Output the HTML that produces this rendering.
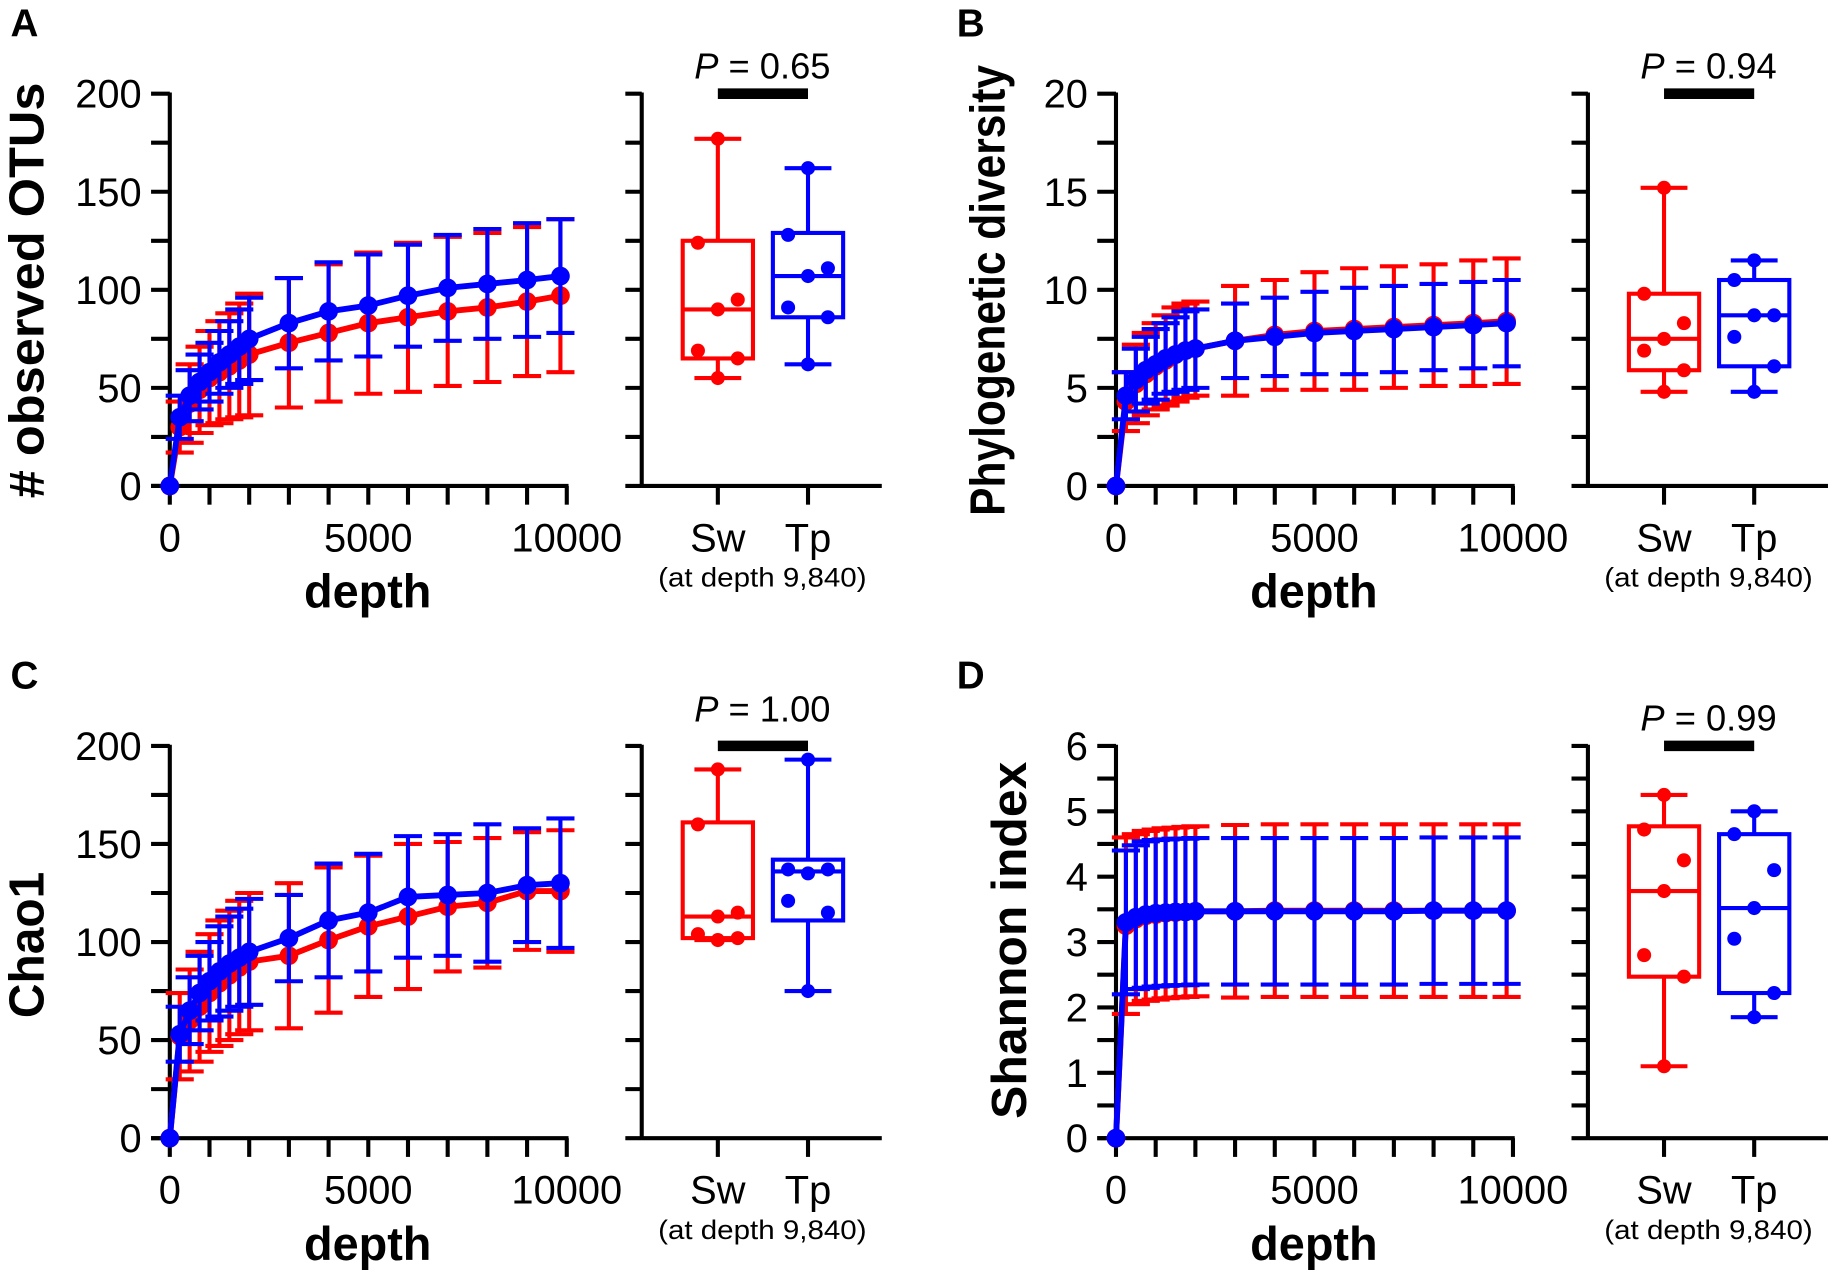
<!DOCTYPE html>
<html><head><meta charset="utf-8"><style>
html,body{margin:0;padding:0;background:#fff}
svg{display:block}
text{font-family:"Liberation Sans",sans-serif;fill:#000}
</style></head><body>
<svg id="fig" width="1835" height="1274" viewBox="0 0 1567 1088" preserveAspectRatio="none" xmlns="http://www.w3.org/2000/svg"></svg>
<script>
const depths=[0,250,500,750,1000,1250,1500,1750,2000,3000,4000,5000,6000,7000,8000,9000,9840];
// Panel A: observed OTUs
const aSwMean=[0,30,42,49,55,58,61,64,67,73,78,83,86,89,91,94,97];
const aSwErr=[0,13,20,22,24,26,27,29,31,33,35,36,38,38,38,38,39];
const aTpMean=[0,35,46,53,58,63,67,71,75,83,89,92,97,101,103,105,107];
const aTpErr=[0,11,13,14,15,16,17,19,21,23,25,26,26,27,28,29,29];
const aSwBox=[55,65,90,125,177]; const aSwPts=[177,124,95,90,69,65,55];
const aTpBox=[62,86,107,129,162]; const aTpPts=[162,128,111,107,91,86,62];
// Panel B: phylogenetic diversity
const bSwMean=[0,4.3,5.2,5.7,6.1,6.4,6.7,6.9,7.0,7.4,7.7,7.9,8.0,8.1,8.2,8.3,8.4];
const bSwErr=[0,1.5,2.0,2.1,2.2,2.3,2.4,2.4,2.4,2.8,2.8,3.0,3.1,3.1,3.1,3.2,3.2];
const bTpMean=[0,4.6,5.4,5.9,6.2,6.5,6.7,6.9,7.0,7.4,7.6,7.8,7.9,8.0,8.1,8.2,8.3];
const bTpErr=[0,1.2,1.6,1.7,1.8,1.8,1.9,2.0,2.0,1.9,2.0,2.1,2.2,2.2,2.2,2.2,2.2];
const bSwBox=[4.8,5.9,7.5,9.8,15.2]; const bSwPts=[15.2,9.8,8.3,7.5,6.9,5.9,4.8];
const bTpBox=[4.8,6.1,8.7,10.5,11.5]; const bTpPts=[11.5,10.5,8.7,8.7,7.6,6.1,4.8];
// Panel C: Chao1
const cSwMean=[0,52,60,67,74,79,83,87,90,93,101,108,113,118,120,126,126];
const cSwErr=[0,22,26,28,30,32,33,34,35,37,37,36,37,33,33,30,31];
const cTpMean=[0,53,65,74,80,85,89,92,95,102,111,115,123,124,125,129,130];
const cTpErr=[0,14,17,19,20,23,24,25,27,22,29,30,31,31,35,29,33];
const cSwBox=[101,102,113,161,188]; const cSwPts=[188,160,115,113,104,102,101];
const cTpBox=[75,111,136,142,193]; const cTpPts=[193,137,137,135,121,115,75];
// Panel D: Shannon
const dSwMean=[0,3.25,3.35,3.4,3.42,3.44,3.45,3.46,3.47,3.47,3.48,3.48,3.48,3.48,3.48,3.48,3.48];
const dSwErr=[0,1.35,1.3,1.3,1.3,1.3,1.3,1.3,1.3,1.32,1.32,1.32,1.32,1.32,1.32,1.32,1.32];
const dTpMean=[0,3.3,3.38,3.42,3.44,3.45,3.46,3.46,3.47,3.47,3.47,3.47,3.47,3.47,3.48,3.48,3.48];
const dTpErr=[0,1.1,1.1,1.12,1.12,1.12,1.12,1.12,1.12,1.12,1.12,1.12,1.12,1.12,1.12,1.12,1.12];
const dSwBox=[1.1,2.47,3.78,4.77,5.25]; const dSwPts=[5.25,4.72,4.25,3.78,2.8,2.47,1.1];
const dTpBox=[1.85,2.22,3.52,4.65,5.0]; const dTpPts=[5.0,4.65,4.1,3.52,3.05,2.22,1.85];
const xTickLabels=["0","5000","10000"];
const groupLabels=["Sw","Tp"];
const pValues=["0.65","0.94","1.00","0.99"];

const NS="http://www.w3.org/2000/svg";
const svg=document.getElementById('fig');
function el(tag,attrs,parent,txt){const e=document.createElementNS(NS,tag);for(const k in attrs)e.setAttribute(k,attrs[k]);if(txt!==undefined)e.textContent=txt;(parent||svg).appendChild(e);return e;}
const RED="#ff0000",BLUE="#0000ff";
const jit=[0,-1,1,0,-1,1,0];

function panel(o){
  const g=el('g',{});  
  const X0=145+o.dx, X1=484+o.dx, Yt=80+o.dy, Yb=415+o.dy;
  const sx=v=>X0+(v/10000)*(X1-X0);
  const sy=v=>Yb-(v/o.ymax)*(Yb-Yt);
  const lt=el('text',{x:9+o.dx,y:31+o.dy,'font-size':33,'font-weight':'bold'},g,o.letter);
   
  const ax=el('g',{stroke:'#000','stroke-width':3.5,fill:'none'},g);
   
  el('line',{x1:X0,y1:Yt-1,x2:X0,y2:Yb+1.5},ax);
  el('line',{x1:X0-16,y1:Yb,x2:X1+1.5,y2:Yb},ax);
  for(let i=0;i<=10;i++){el('line',{x1:sx(i*1000),y1:Yb,x2:sx(i*1000),y2:Yb+16},ax);}
  const nT=o.ymax/o.minor;
  for(let i=0;i<=nT;i++){el('line',{x1:X0-16,y1:sy(i*o.minor),x2:X0,y2:sy(i*o.minor)},ax);}
  for(let i=0;i<xTickLabels.length;i++){const t=el('text',{x:sx(i*5000),y:Yb+56,'font-size':34,'text-anchor':'middle'},g,xTickLabels[i]);}
  for(let i=0;i<=nT;i+=2){const v=i*o.minor;const t=el('text',{x:X0-24,y:sy(v)+12,'font-size':34,'text-anchor':'end'},g,String(v));}
  const xt=el('text',{x:314+o.dx,y:Yb+104,'font-size':40,'font-weight':'bold','text-anchor':'middle'},g,'depth');
   
  const cy=o.ytcy+o.dy;
  const yt=el('text',{x:o.ytx+o.dx,y:cy,'font-size':42,'font-weight':'bold','text-anchor':'middle',textLength:o.ytlen,lengthAdjust:'spacingAndGlyphs',transform:`rotate(-90 ${o.ytx+o.dx} ${cy})`},g,o.ytitle);
   
  [[o.sw,o.swe,RED,'sw'],[o.tp,o.tpe,BLUE,'tp']].forEach(([m,e,c,n])=>{
    const sg=el('g',{},g);  
    for(let i=1;i<depths.length;i++){
      const x=sx(depths[i]);
      el('line',{x1:x,y1:sy(m[i]-e[i]),x2:x,y2:sy(m[i]+e[i]),stroke:c,'stroke-width':3.5},sg);
      el('line',{x1:x-12,y1:sy(m[i]+e[i]),x2:x+12,y2:sy(m[i]+e[i]),stroke:c,'stroke-width':3.5},sg);
      el('line',{x1:x-12,y1:sy(m[i]-e[i]),x2:x+12,y2:sy(m[i]-e[i]),stroke:c,'stroke-width':3.5},sg);
    }
    el('polyline',{points:depths.map((d,i)=>sx(d)+','+sy(m[i])).join(' '),fill:'none',stroke:c,'stroke-width':5},sg);
    depths.forEach((d,i)=>{const p=el('circle',{cx:sx(d),cy:sy(m[i]),r:8,fill:c},sg);});
  });
  const BX=548+o.dx, BX1=753+o.dx;
  const gx=[613+o.dx,690+o.dx];
  const bg=el('g',{},g);  
  const bax=el('g',{stroke:'#000','stroke-width':3.5},bg);
  el('line',{x1:BX,y1:Yt-1,x2:BX,y2:Yb+1.5},bax);
  el('line',{x1:BX,y1:Yb,x2:BX1,y2:Yb},bax);
  for(let i=0;i<=nT;i++){el('line',{x1:BX-14,y1:sy(i*o.minor),x2:BX,y2:sy(i*o.minor)},bax);}
  gx.forEach(x=>el('line',{x1:x,y1:Yb,x2:x,y2:Yb+16},bax));
  groupLabels.forEach((l,i)=>{const t=el('text',{x:gx[i],y:Yb+56,'font-size':34,'text-anchor':'middle'},bg,l);});
  const sub=el('text',{x:651+o.dx,y:Yb+86,'font-size':23,'text-anchor':'middle',textLength:178,lengthAdjust:'spacingAndGlyphs'},bg,'(at depth 9,840)');
   
  const sb=el('line',{x1:gx[0],y1:Yt,x2:gx[1],y2:Yt,stroke:'#000','stroke-width':9},bg);
   
  const pt=el('text',{x:651+o.dx,y:Yt+o.pdy,'font-size':31,'text-anchor':'middle'},bg);
   
  el('tspan',{'font-style':'italic'},pt,'P'); el('tspan',{},pt,' = '+o.p);
  [[o.swBox,o.swPts,RED,0,'sw'],[o.tpBox,o.tpPts,BLUE,1,'tp']].forEach(([b,pts,c,i,n])=>{
    const x=gx[i], w=30;
    const bb=el('g',{stroke:c,'stroke-width':3.5,fill:'none'},bg);  
    el('line',{x1:x,y1:sy(b[0]),x2:x,y2:sy(b[1])},bb);
    el('line',{x1:x,y1:sy(b[3]),x2:x,y2:sy(b[4])},bb);
    el('line',{x1:x-20,y1:sy(b[0]),x2:x+20,y2:sy(b[0])},bb);
    el('line',{x1:x-20,y1:sy(b[4]),x2:x+20,y2:sy(b[4])},bb);
    el('rect',{x:x-w,y:sy(b[3]),width:2*w,height:sy(b[1])-sy(b[3])},bb);
    el('line',{x1:x-w,y1:sy(b[2]),x2:x+w,y2:sy(b[2])},bb);
    pts.forEach((v,k)=>{const p=el('circle',{cx:x+jit[k]*17,cy:sy(v),r:6,fill:c},bg);});
  });
}
panel({letter:'A',dx:0,dy:0,ymax:200,minor:25,ytitle:'# observed OTUs',ytx:37,ytcy:248,ytlen:355,sw:aSwMean,swe:aSwErr,tp:aTpMean,tpe:aTpErr,swBox:aSwBox,swPts:aSwPts,tpBox:aTpBox,tpPts:aTpPts,p:pValues[0],pdy:-13});
panel({letter:'B',dx:808,dy:0,ymax:20,minor:2.5,ytitle:'Phylogenetic diversity',ytx:50,ytcy:248,ytlen:385,sw:bSwMean,swe:bSwErr,tp:bTpMean,tpe:bTpErr,swBox:bSwBox,swPts:bSwPts,tpBox:bTpBox,tpPts:bTpPts,p:pValues[1],pdy:-13});
panel({letter:'C',dx:0,dy:557,ymax:200,minor:25,ytitle:'Chao1',ytx:37,ytcy:250,ytlen:125,sw:cSwMean,swe:cSwErr,tp:cTpMean,tpe:cTpErr,swBox:cSwBox,swPts:cSwPts,tpBox:cTpBox,tpPts:cTpPts,p:pValues[2],pdy:-21});
panel({letter:'D',dx:808,dy:557,ymax:6,minor:0.5,ytitle:'Shannon index',ytx:68,ytcy:246,ytlen:305,sw:dSwMean,swe:dSwErr,tp:dTpMean,tpe:dTpErr,swBox:dSwBox,swPts:dSwPts,tpBox:dTpBox,tpPts:dTpPts,p:pValues[3],pdy:-13});
</script>
</body></html>
